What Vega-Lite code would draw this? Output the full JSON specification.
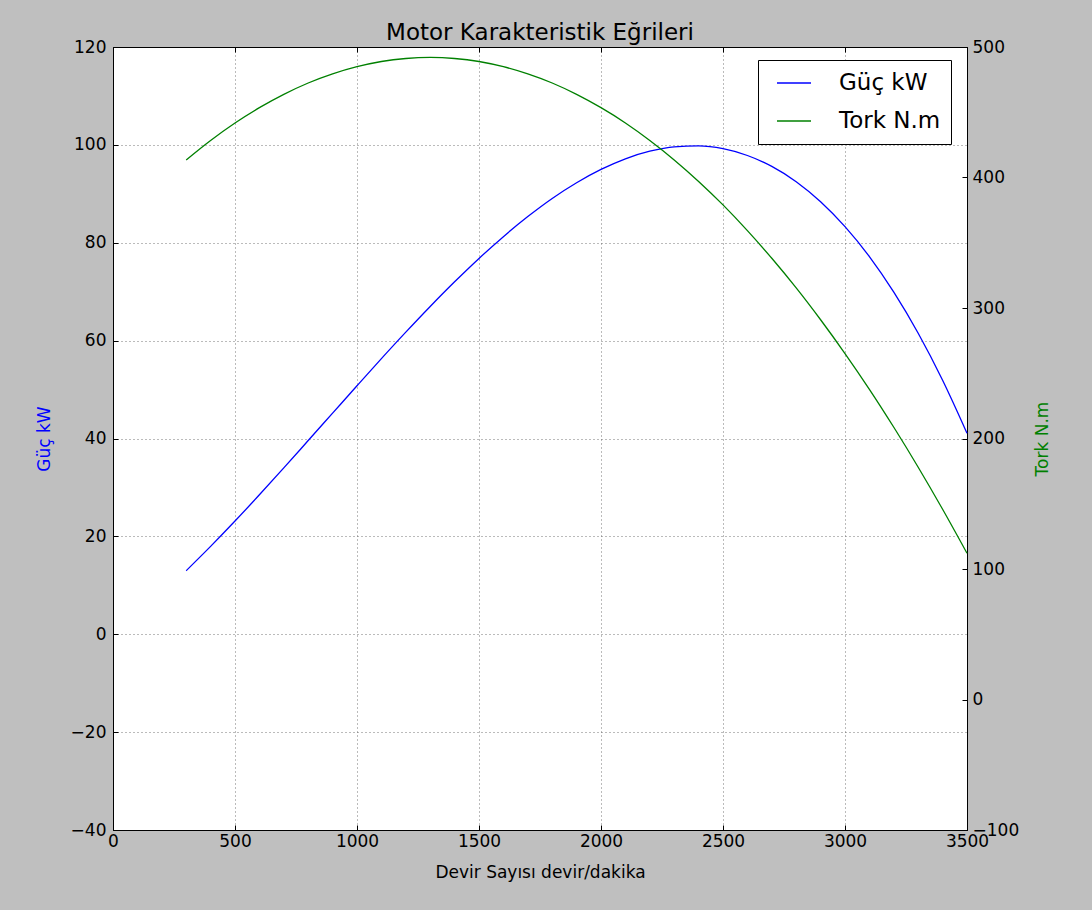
{
  "$schema": "https://vega.github.io/schema/vega-lite/v6.json",
  "autosize": "none",
  "width": 854,
  "height": 783,
  "padding": {"left": 113, "top": 47, "right": 125, "bottom": 80},
  "background": "#bfbfbf",
  "title": {"text": "Motor Karakteristik Eğrileri", "font": "DejaVu Sans", "fontSize": 23, "fontWeight": "normal", "color": "#000000", "anchor": "middle", "offset": -7},
  "config": {
    "font": "DejaVu Sans",
    "view": {"fill": "white", "stroke": "black", "strokeWidth": 1},
    "axis": {"labelFont": "DejaVu Sans", "labelFontSize": 17, "labelColor": "#000000", "titleFont": "DejaVu Sans", "titleFontSize": 17, "titleFontWeight": "normal", "domainColor": "#000000", "domainWidth": 1, "tickColor": "#000000", "tickSize": -5, "tickWidth": 1, "gridColor": "#555555", "gridDash": [1, 3], "gridWidth": 1, "gridOpacity": 0.8}
  },
  "data": {"values": [
    {"rpm": 300, "guc": 12.99, "tork": 413.5},
    {"rpm": 400, "guc": 17.95, "tork": 428.4},
    {"rpm": 500, "guc": 23.13, "tork": 441.8},
    {"rpm": 600, "guc": 28.50, "tork": 453.5},
    {"rpm": 700, "guc": 33.99, "tork": 463.7},
    {"rpm": 800, "guc": 39.58, "tork": 472.4},
    {"rpm": 900, "guc": 45.18, "tork": 479.4},
    {"rpm": 1000, "guc": 50.78, "tork": 484.9},
    {"rpm": 1100, "guc": 56.32, "tork": 488.9},
    {"rpm": 1200, "guc": 61.73, "tork": 491.2},
    {"rpm": 1300, "guc": 66.98, "tork": 492.0},
    {"rpm": 1400, "guc": 72.02, "tork": 491.2},
    {"rpm": 1500, "guc": 76.80, "tork": 488.9},
    {"rpm": 1600, "guc": 81.25, "tork": 484.9},
    {"rpm": 1700, "guc": 85.35, "tork": 479.4},
    {"rpm": 1800, "guc": 89.05, "tork": 472.4},
    {"rpm": 1900, "guc": 92.26, "tork": 463.7},
    {"rpm": 2000, "guc": 94.98, "tork": 453.5},
    {"rpm": 2100, "guc": 97.16, "tork": 441.8},
    {"rpm": 2200, "guc": 98.70, "tork": 428.4},
    {"rpm": 2300, "guc": 99.60, "tork": 413.5},
    {"rpm": 2400, "guc": 99.78, "tork": 397.0},
    {"rpm": 2500, "guc": 99.22, "tork": 379.0},
    {"rpm": 2600, "guc": 97.83, "tork": 359.3},
    {"rpm": 2700, "guc": 95.60, "tork": 338.1},
    {"rpm": 2800, "guc": 92.48, "tork": 315.4},
    {"rpm": 2900, "guc": 88.38, "tork": 291.0},
    {"rpm": 3000, "guc": 83.29, "tork": 265.1},
    {"rpm": 3100, "guc": 77.17, "tork": 237.7},
    {"rpm": 3200, "guc": 69.90, "tork": 208.6},
    {"rpm": 3300, "guc": 61.51, "tork": 178.0},
    {"rpm": 3400, "guc": 51.91, "tork": 145.8},
    {"rpm": 3500, "guc": 41.09, "tork": 112.1}
  ]},
  "layer": [
    {
      "mark": {"type": "line", "strokeWidth": 1.3, "interpolate": "monotone"},
      "encoding": {
        "x": {"field": "rpm", "type": "quantitative", "scale": {"domain": [0, 3500], "nice": false, "zero": false},
              "axis": {"orient": "bottom", "values": [0, 500, 1000, 1500, 2000, 2500, 3000, 3500], "format": "d", "grid": true, "labelPadding": 8, "labelFlush": false, "title": "Devir Sayısı devir/dakika", "titlePadding": 15, "titleColor": "#000000"}},
        "y": {"field": "guc", "type": "quantitative", "scale": {"domain": [-40, 120], "nice": false, "zero": false},
              "axis": {"orient": "left", "values": [-40, -20, 0, 20, 40, 60, 80, 100, 120], "grid": true, "labelPadding": 12, "title": "Güç kW", "titleColor": "#0000ff", "titlePadding": 17}},
        "color": {"datum": "Güç kW", "type": "nominal",
                  "scale": {"domain": ["Güç kW", "Tork N.m"], "range": ["#0000ff", "#008000"]},
                  "legend": {"orient": "none", "legendX": 645, "legendY": 13, "title": null, "padding": 10, "clipHeight": 26, "strokeColor": "#000000", "fillColor": "#ffffff", "cornerRadius": 0, "symbolType": "stroke", "symbolSize": 1156, "symbolStrokeWidth": 1.5, "symbolOffset": 8, "labelFont": "DejaVu Sans", "labelFontSize": 23, "labelColor": "#000000", "labelOffset": 27, "rowPadding": 12}}
      }
    },
    {
      "mark": {"type": "line", "strokeWidth": 1.3, "interpolate": "monotone"},
      "encoding": {
        "x": {"field": "rpm", "type": "quantitative", "scale": {"domain": [0, 3500], "nice": false, "zero": false},
              "axis": {"orient": "top", "values": [0, 500, 1000, 1500, 2000, 2500, 3000, 3500], "labels": false, "grid": false, "title": null}},
        "y": {"field": "tork", "type": "quantitative", "scale": {"domain": [-100, 500], "nice": false, "zero": false},
              "axis": {"orient": "right", "values": [-100, 0, 100, 200, 300, 400, 500], "grid": false, "labelPadding": 10, "title": "Tork N.m", "titleColor": "#008000", "titleAngle": 270, "titlePadding": 33}},
        "color": {"datum": "Tork N.m", "type": "nominal"}
      }
    }
  ],
  "resolve": {"scale": {"y": "independent"}, "axis": {"x": "independent", "y": "independent"}}
}
